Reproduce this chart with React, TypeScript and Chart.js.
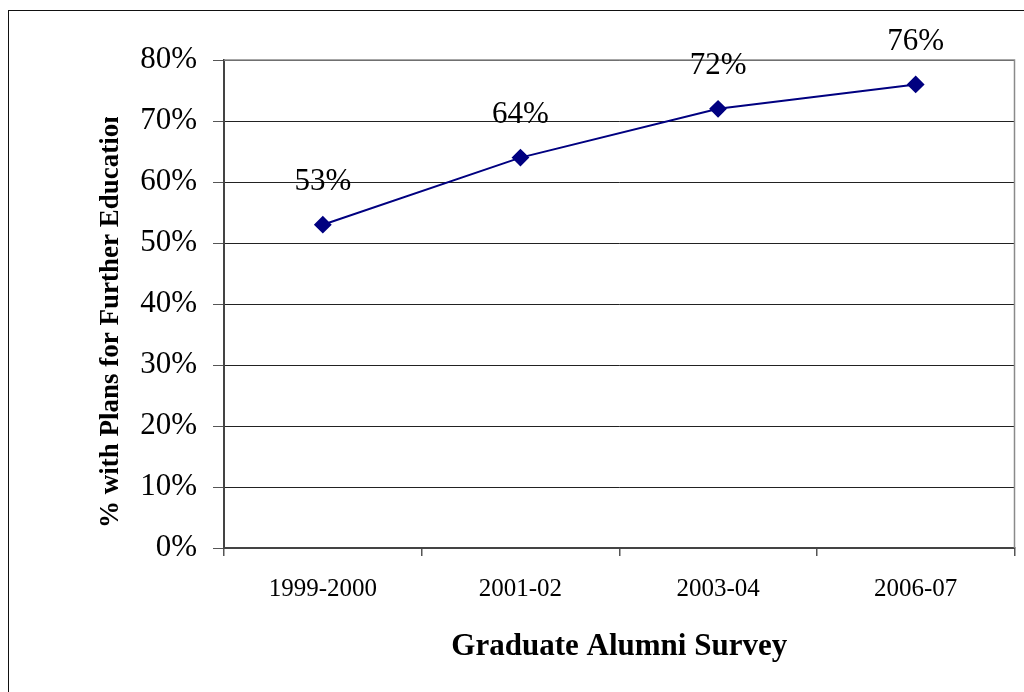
import React, { useEffect, useRef } from 'react';
import { Chart, registerables } from 'chart.js';

Chart.register(...registerables);

const categories: string[] = ['1999-2000', '2001-02', '2003-04', '2006-07'];
const values: number[] = [53, 64, 72, 76];
const yMin = 0;
const yMax = 80;
const yStep = 10;
const xTitle = 'Graduate Alumni Survey';
const yTitle = '% with Plans for Further Education';

const SERIF = '"Liberation Serif", "Times New Roman", serif';

const overlayPlugin = {
  id: 'overlay',
  beforeDatasetsDraw(chart: any) {
    const { ctx, chartArea: a } = chart;
    ctx.save();
    ctx.strokeStyle = '#8a8a8a';
    ctx.lineWidth = 1.5;
    ctx.beginPath();
    ctx.moveTo(a.left, a.top);
    ctx.lineTo(a.right, a.top);
    ctx.lineTo(a.right, a.bottom);
    ctx.stroke();
    ctx.restore();
  },
  afterDatasetsDraw(chart: any) {
    const { ctx } = chart;
    const meta = chart.getDatasetMeta(0);
    ctx.save();
    ctx.font = `31px ${SERIF}`;
    ctx.fillStyle = '#000';
    ctx.textAlign = 'center';
    ctx.textBaseline = 'middle';
    meta.data.forEach((pt: any, i: number) => {
      ctx.fillText(values[i] + '%', pt.x, pt.y - 43);
    });
    ctx.restore();
  },
  afterDraw(chart: any) {
    const { ctx } = chart;
    ctx.save();
    ctx.beginPath();
    ctx.rect(0, 117, 200, 600);
    ctx.clip();
    ctx.translate(118, 528);
    ctx.rotate(-Math.PI / 2);
    ctx.font = `bold 27px ${SERIF}`;
    ctx.fillStyle = '#000';
    ctx.textAlign = 'left';
    ctx.textBaseline = 'alphabetic';
    ctx.fillText(yTitle, 0, 0);
    ctx.restore();
  },
};

export default function App() {
  const ref = useRef<HTMLCanvasElement | null>(null);

  useEffect(() => {
    if (!ref.current) return;
    const chart = new Chart(ref.current, {
      type: 'line',
      data: {
        labels: categories,
        datasets: [
          {
            data: values,
            borderColor: '#000080',
            backgroundColor: '#000080',
            borderWidth: 2,
            pointStyle: 'rectRot',
            pointRadius: 7.5,
            pointHoverRadius: 7.5,
            pointBackgroundColor: '#000080',
            pointBorderColor: '#000080',
            tension: 0,
          },
        ],
      },
      options: {
        responsive: false,
        animation: false,
        layout: { padding: { top: 60, right: 9, left: 0, bottom: 0 } },
        plugins: { legend: { display: false }, tooltip: { enabled: false } },
        scales: {
          x: {
            offset: true,
            grid: {
              offset: true,
              drawOnChartArea: false,
              drawTicks: true,
              tickLength: 8,
              color: '#555',
              lineWidth: 1.5,
            },
            border: { color: '#444', width: 2 },
            ticks: {
              font: { family: SERIF, size: 25 },
              color: '#000',
              padding: 18,
              maxRotation: 0,
            },
            title: {
              display: true,
              text: xTitle,
              font: { family: SERIF, size: 31, weight: 'bold' },
              color: '#000',
              padding: { top: 0, bottom: 26 },
            },
            afterFit: (s: any) => {
              s.height = 144;
            },
          },
          y: {
            min: yMin,
            max: yMax,
            ticks: {
              stepSize: yStep,
              callback: (v: any) => v + '%',
              font: { family: SERIF, size: 31 },
              color: '#000',
              padding: 16,
            },
            grid: {
              color: '#222',
              lineWidth: 1,
              tickLength: 11,
              drawTicks: true,
              tickColor: '#555',
            },
            border: { color: '#444', width: 2 },
            afterFit: (s: any) => {
              s.width = 224;
            },
          },
        },
      },
      plugins: [overlayPlugin],
    } as any);
    return () => chart.destroy();
  }, []);

  return (
    <div
      style={{
        position: 'fixed',
        left: 0,
        top: 0,
        width: 1024,
        height: 692,
        overflow: 'hidden',
        background: '#fff',
      }}
    >
      <div
        style={{
          position: 'absolute',
          left: 8,
          top: 10,
          width: 1100,
          height: 800,
          border: '1.5px solid #111',
        }}
      />
      <canvas
        ref={ref}
        width={1024}
        height={692}
        style={{ position: 'absolute', left: 0, top: 0, width: 1024, height: 692 }}
      />
    </div>
  );
}
